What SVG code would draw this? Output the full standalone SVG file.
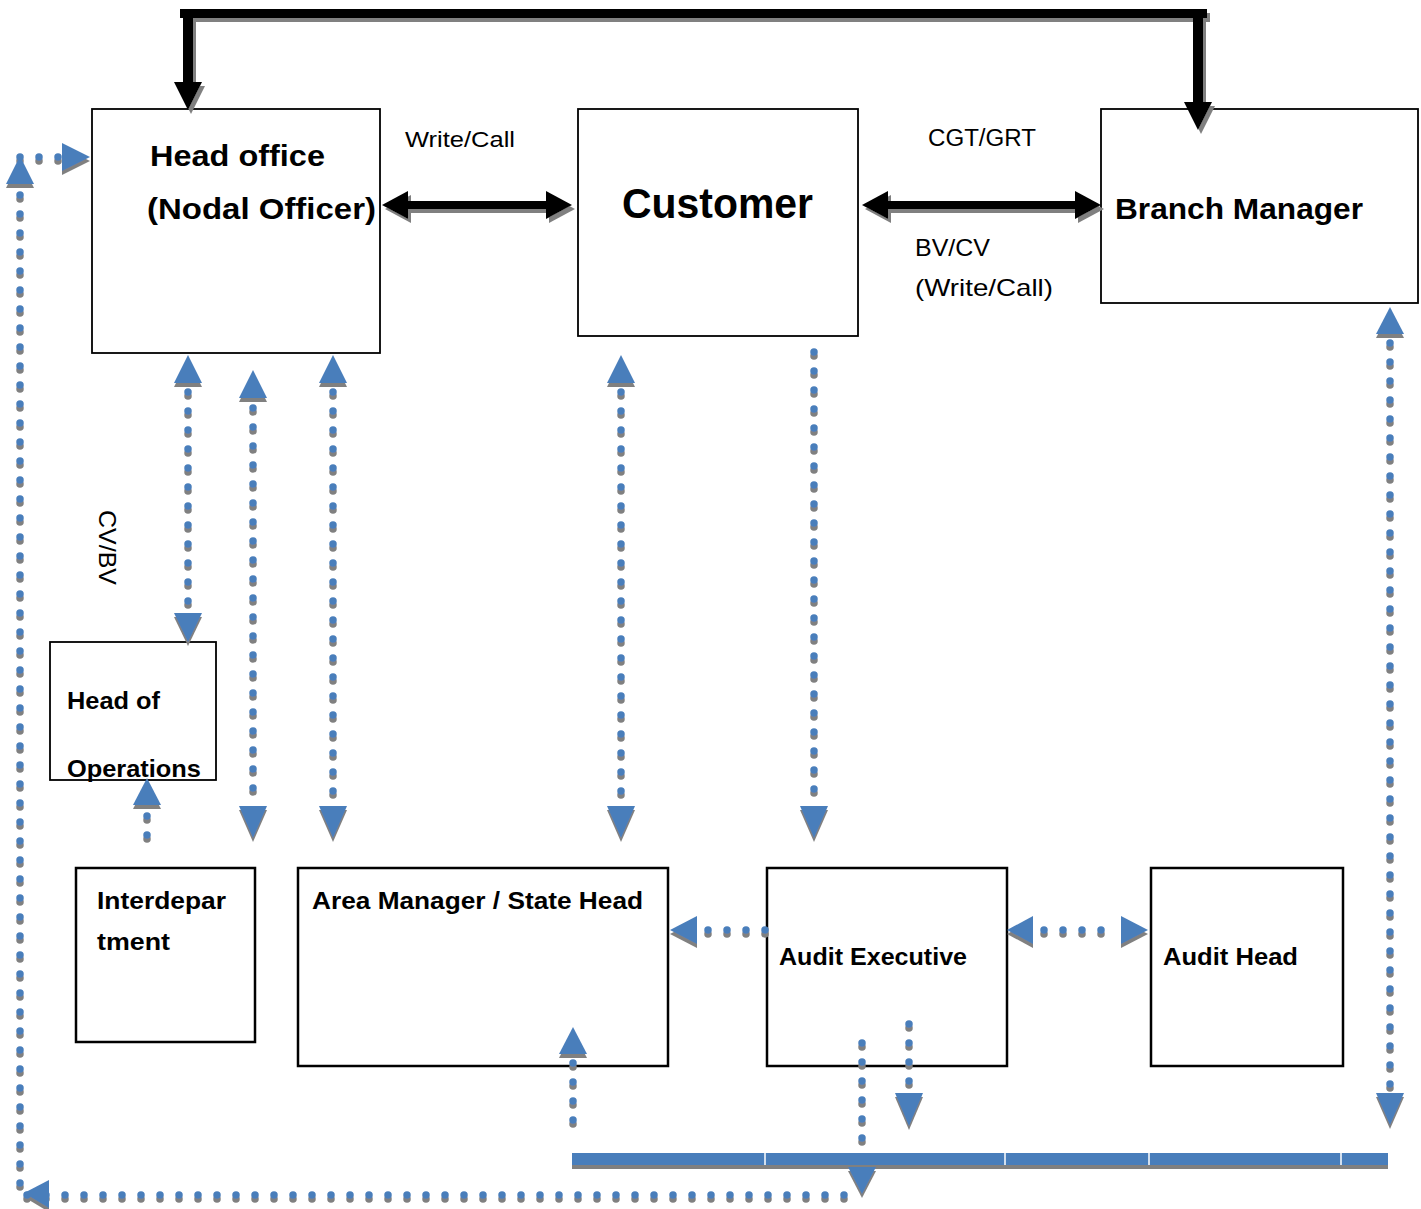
<svg xmlns="http://www.w3.org/2000/svg" width="1421" height="1209" viewBox="0 0 1421 1209">
<style>
.box{fill:#fff;stroke:#000;stroke-width:2.5}
.boxt{fill:#fff;stroke:#000;stroke-width:1.8}
.t{font-family:"Liberation Sans",Arial,sans-serif;fill:#000}
.b{font-weight:bold}
.dot{fill:none;stroke:#4a7ebb;stroke-width:7.5;stroke-linecap:round;stroke-dasharray:0 19}
.ah{fill:#4a7ebb}
.blk{fill:#000}
</style>
<defs>
<filter id="sh" x="-10%" y="-10%" width="120%" height="120%">
<feFlood flood-color="#808080" result="c"/>
<feComposite in="c" in2="SourceAlpha" operator="in" result="s"/>
<feOffset in="s" dx="0" dy="3.5" result="o"/>
<feMerge><feMergeNode in="o"/><feMergeNode in="SourceGraphic"/></feMerge>
</filter>
<filter id="shb" x="-10%" y="-10%" width="120%" height="120%">
<feFlood flood-color="#808080" result="c"/>
<feComposite in="c" in2="SourceAlpha" operator="in" result="s"/>
<feOffset in="s" dx="3" dy="4" result="o"/>
<feMerge><feMergeNode in="o"/><feMergeNode in="SourceGraphic"/></feMerge>
</filter>
</defs>
<rect width="1421" height="1209" fill="#fff"/>

<g id="head-office"><rect class="boxt" x="92" y="109" width="288" height="244"/>
<text class="t b" x="150" y="166" font-size="30" textLength="175" lengthAdjust="spacingAndGlyphs">Head office</text>
<text class="t b" x="147" y="219" font-size="30" textLength="229" lengthAdjust="spacingAndGlyphs">(Nodal Officer)</text></g>
<g id="customer"><rect class="boxt" x="578" y="109" width="280" height="227"/>
<text class="t b" x="622" y="218" font-size="42" textLength="191" lengthAdjust="spacingAndGlyphs">Customer</text></g>
<g id="branch-manager"><rect class="boxt" x="1101" y="109" width="317" height="194"/>
<text class="t b" x="1115" y="219" font-size="30" textLength="248" lengthAdjust="spacingAndGlyphs">Branch Manager</text></g>
<g id="head-of-operations"><rect class="boxt" x="50" y="642" width="166" height="138"/>
<text class="t b" x="67" y="709" font-size="24" textLength="93" lengthAdjust="spacingAndGlyphs">Head of</text>
<text class="t b" x="67" y="777" font-size="24" textLength="134" lengthAdjust="spacingAndGlyphs">Operations</text></g>
<g id="interdepartment"><rect class="box" x="76" y="868" width="179" height="174"/>
<text class="t b" x="97" y="909" font-size="24" textLength="129" lengthAdjust="spacingAndGlyphs">Interdepar</text>
<text class="t b" x="97" y="950" font-size="24" textLength="73" lengthAdjust="spacingAndGlyphs">tment</text></g>
<g id="area-manager"><rect class="box" x="298" y="868" width="370" height="198"/>
<text class="t b" x="312" y="909" font-size="24" textLength="331" lengthAdjust="spacingAndGlyphs">Area Manager / State Head</text></g>
<g id="audit-executive"><rect class="box" x="767" y="868" width="240" height="198"/>
<text class="t b" x="779" y="965" font-size="24" textLength="188" lengthAdjust="spacingAndGlyphs">Audit Executive</text></g>
<g id="audit-head"><rect class="box" x="1151" y="868" width="192" height="198"/>
<text class="t b" x="1163" y="965" font-size="24" textLength="135" lengthAdjust="spacingAndGlyphs">Audit Head</text></g>

<g id="connectors">
<g filter="url(#shb)">
<rect class="blk" x="180" y="9" width="1027" height="9"/>
<rect class="blk" x="183" y="9" width="10" height="74"/>
<polygon class="blk" points="174,82 202,82 188,110"/>
<rect class="blk" x="1193" y="9" width="10" height="94"/>
<polygon class="blk" points="1184,102 1212,102 1198,130"/>
<rect class="blk" x="400" y="201" width="155" height="8"/>
<polygon class="blk" points="382,205 408,191 408,219"/>
<polygon class="blk" points="572,205 546,191 546,219"/>
<rect class="blk" x="880" y="201" width="204" height="8"/>
<polygon class="blk" points="862,205 888,191 888,219"/>
<polygon class="blk" points="1101,205 1075,191 1075,219"/>
</g>
<g filter="url(#sh)">
<path class="dot" d="M188,392V608"/>
<polygon class="ah" points="188,355 174,383 202,383"/>
<polygon class="ah" points="174,613 202,613 188,642"/>
<path class="dot" d="M253,408V800"/>
<polygon class="ah" points="253,370 239,398 267,398"/>
<polygon class="ah" points="239,806 267,806 253,838"/>
<path class="dot" d="M333,392V800"/>
<polygon class="ah" points="333,355 319,383 347,383"/>
<polygon class="ah" points="319,806 347,806 333,838"/>
<path class="dot" d="M621,392V800"/>
<polygon class="ah" points="621,355 607,383 635,383"/>
<polygon class="ah" points="607,806 635,806 621,838"/>
<path class="dot" d="M814,352V800"/>
<polygon class="ah" points="800,806 828,806 814,838"/>
<path class="dot" d="M147,816V840"/>
<polygon class="ah" points="147,778 133,805 161,805"/>
<path class="dot" d="M20,195V1195H862"/>
<polygon class="ah" points="20,156 6,184 34,184"/>
<polygon class="ah" points="24,1193 49,1180 49,1208"/>
<path class="dot" d="M20,157H60"/>
<polygon class="ah" points="62,143 62,171 90,157"/>
<path class="dot" d="M862,1043V1158"/>
<polygon class="ah" points="848,1167 876,1167 862,1194"/>
<path class="dot" d="M909,1024V1085"/>
<polygon class="ah" points="895,1093 923,1093 909,1126"/>
<path class="dot" d="M573,1063V1125"/>
<polygon class="ah" points="573,1027 559,1054 587,1054"/>
<path class="dot" d="M1390,343V1085"/>
<polygon class="ah" points="1390,307 1376,334 1404,334"/>
<polygon class="ah" points="1376,1093 1404,1093 1390,1125"/>
<path class="dot" d="M708,930H766"/>
<polygon class="ah" points="670,930 697,916 697,944"/>
<path class="dot" d="M1044,930H1120"/>
<polygon class="ah" points="1007,930 1033,916 1033,944"/>
<polygon class="ah" points="1148,930 1121,916 1121,944"/>
<rect class="ah" x="572" y="1153" width="816" height="12"/>
</g>
<g stroke="#fff" stroke-width="1.5"><path d="M765,1153v12M1005,1153v12M1149,1153v12M1341,1153v12"/></g>
</g>

<g id="labels">
<text class="t" x="405" y="147" font-size="22" textLength="110" lengthAdjust="spacingAndGlyphs">Write/Call</text>
<text class="t" x="928" y="146" font-size="23" textLength="108" lengthAdjust="spacingAndGlyphs">CGT/GRT</text>
<text class="t" x="915" y="256" font-size="24" textLength="75" lengthAdjust="spacingAndGlyphs">BV/CV</text>
<text class="t" x="915" y="296" font-size="24" textLength="138" lengthAdjust="spacingAndGlyphs">(Write/Call)</text>
<text class="t" transform="translate(99,510) rotate(90)" font-size="24" textLength="75" lengthAdjust="spacingAndGlyphs">CV/BV</text>
</g>
</svg>
